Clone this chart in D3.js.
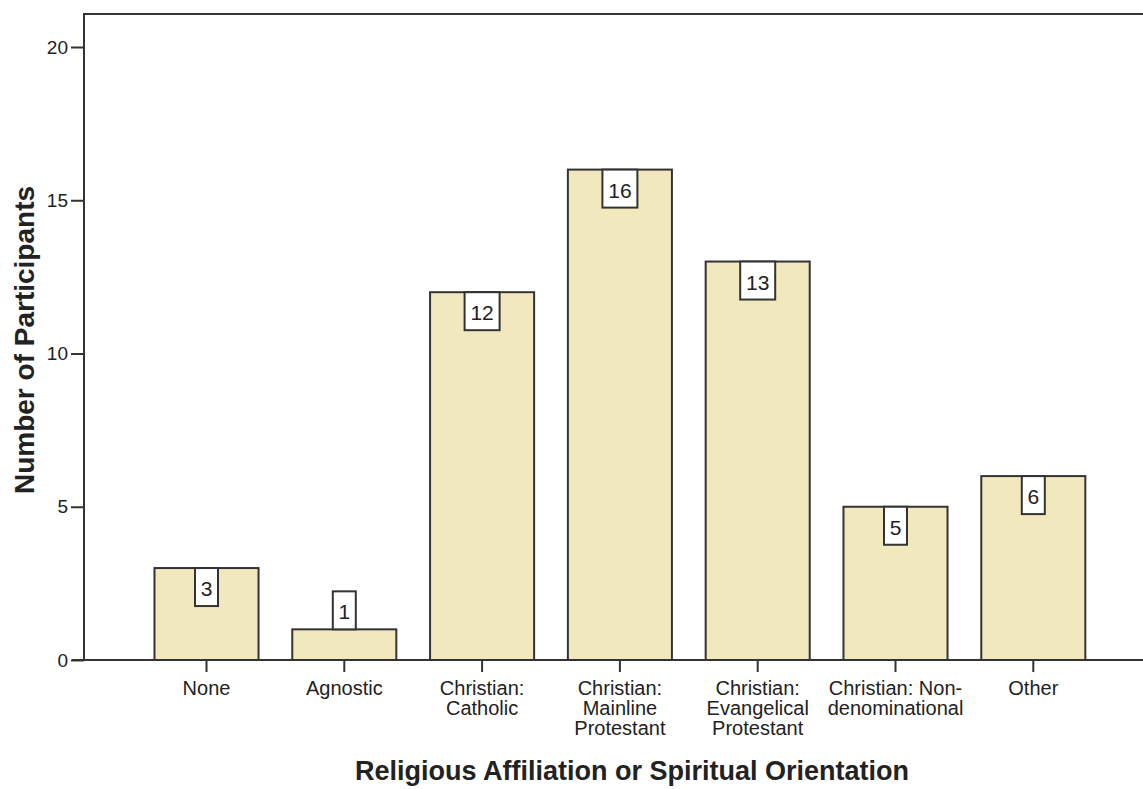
<!DOCTYPE html>
<html lang="en">
<head>
  <meta charset="utf-8">
  <title>Religious Affiliation</title>
  <script src="https://d3js.org/d3.v7.min.js"></script>
  <style>
    body { margin: 0; background: #fff; }
    text { font-family: "Liberation Sans", Arial, sans-serif; fill: #222; }
  </style>
</head>
<body>
<script>
// data
var categories = [
  ["None"],
  ["Agnostic"],
  ["Christian:", "Catholic"],
  ["Christian:", "Mainline", "Protestant"],
  ["Christian:", "Evangelical", "Protestant"],
  ["Christian: Non-", "denominational"],
  ["Other"]
];
var counts = [3, 1, 12, 16, 13, 5, 6];
var yTicks = [0, 5, 10, 15, 20];

var width = 1143, height = 789;
var svg = d3.select("body").append("svg")
    .attr("width", width)
    .attr("height", height);

var keys = categories.map(function(c) { return c.join(" "); });

var x = d3.scaleBand()
    .domain(keys)
    .range([137.6, 1102.2])
    .paddingInner(0.245)
    .paddingOuter(0.1225);

var y = d3.scaleLinear()
    .domain([0, 20])
    .range([660, 47]);

var frameLeft = 84, frameTop = 14;
var ink = "#333";

// frame (top + left)
svg.append("path")
    .attr("d", "M" + frameLeft + "," + y(0) + "V" + frameTop + "H" + width)
    .attr("fill", "none")
    .attr("stroke", ink)
    .attr("stroke-width", 2);

// y axis ticks
var yAxis = svg.append("g").attr("transform", "translate(" + frameLeft + ",0)")
    .call(d3.axisLeft(y).tickValues(yTicks).tickSize(13).tickPadding(3));
yAxis.select(".domain").remove();
yAxis.selectAll("line").attr("stroke", ink).attr("stroke-width", 2);
yAxis.selectAll("text").style("font-size", "19px")
    .style("font-family", "'Liberation Sans', Arial, sans-serif").attr("fill", "#222");

// bars
var bars = svg.append("g");
bars.selectAll("rect")
    .data(counts)
    .join("rect")
    .attr("x", function(d, i) { return x(keys[i]); })
    .attr("y", function(d) { return y(d); })
    .attr("width", x.bandwidth())
    .attr("height", function(d) { return y(0) - y(d); })
    .attr("fill", "#f1e9bd")
    .attr("stroke", ink)
    .attr("stroke-width", 2);

// x axis line + ticks
svg.append("line")
    .attr("x1", 72).attr("x2", width)
    .attr("y1", y(0)).attr("y2", y(0))
    .attr("stroke", ink).attr("stroke-width", 2);

var xg = svg.append("g");
xg.selectAll("line")
    .data(keys)
    .join("line")
    .attr("x1", function(k) { return x(k) + x.bandwidth() / 2; })
    .attr("x2", function(k) { return x(k) + x.bandwidth() / 2; })
    .attr("y1", y(0)).attr("y2", y(0) + 12)
    .attr("stroke", ink).attr("stroke-width", 2);

xg.selectAll("text")
    .data(categories)
    .join("text")
    .attr("text-anchor", "middle")
    .attr("x", function(c, i) { return x(keys[i]) + x.bandwidth() / 2; })
    .attr("y", 695)
    .style("font-size", "20px")
    .each(function(c) {
      var t = d3.select(this);
      c.forEach(function(line, j) {
        t.append("tspan")
          .attr("x", t.attr("x"))
          .attr("dy", j === 0 ? 0 : 20)
          .text(line);
      });
    });

// value labels
var boxH = 38;
var lab = svg.append("g").selectAll("g")
    .data(counts)
    .join("g")
    .attr("transform", function(d, i) {
      var cx = x(keys[i]) + x.bandwidth() / 2;
      var top = (y(0) - y(d) < boxH + 4) ? y(d) - boxH : y(d);
      return "translate(" + cx + "," + top + ")";
    });
lab.append("rect")
    .attr("x", function(d) { return d >= 10 ? -17.5 : -11.5; })
    .attr("width", function(d) { return d >= 10 ? 35 : 23; })
    .attr("height", boxH)
    .attr("fill", "#fff")
    .attr("stroke", ink)
    .attr("stroke-width", 2);
lab.append("text")
    .attr("text-anchor", "middle")
    .attr("y", 28)
    .style("font-size", "21px")
    .text(function(d) { return d; });

// axis titles
svg.append("text")
    .attr("x", 632).attr("y", 780)
    .attr("text-anchor", "middle")
    .style("font-size", "27px").style("font-weight", "bold")
    .text("Religious Affiliation or Spiritual Orientation");

svg.append("text")
    .attr("transform", "translate(34,340) rotate(-90)")
    .attr("text-anchor", "middle")
    .style("font-size", "28px").style("font-weight", "bold")
    .text("Number of Participants");
</script>
</body>
</html>
